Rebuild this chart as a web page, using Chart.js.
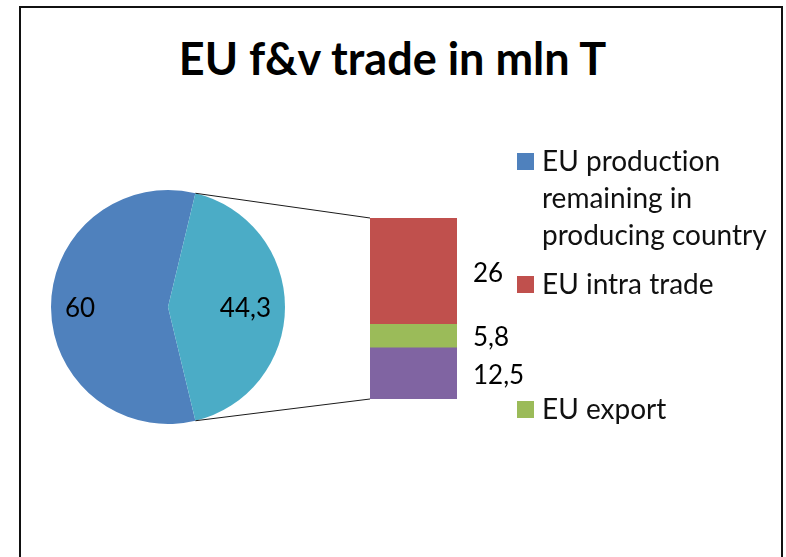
<!DOCTYPE html>
<html>
<head>
<meta charset="utf-8">
<script src="https://cdn.jsdelivr.net/npm/chart.js@4.4.1/dist/chart.umd.min.js"></script>
<style>
    html, body { margin: 0; padding: 0; background: #fff; }
    #wrap { position: relative; width: 786px; height: 557px; overflow: hidden; background: #fff; }
    #frame { position: absolute; left: 19px; top: 6px; width: 764px; height: 700px; border: 2px solid #111; box-sizing: border-box; }
    #title { position: absolute; left: 0; top: 36px; width: 785px; text-align: center;
             font: bold 45px/45px Lato, sans-serif; color: #000; white-space: nowrap; }
    canvas { position: absolute; left: 0; top: 0; }
    .legend-item { position: absolute; left: 542px; width: 236px; font: 28px/37px Lato, sans-serif; color: #111;
                   font-feature-settings: "liga" 0, "clig" 0, "dlig" 0, "calt" 0; }
    .legend-box { position: absolute; left: -25px; width: 17px; height: 17px; }
</style>
</head>
<body>
<div id="wrap">
    <div id="frame"></div>
    <div id="title">EU f&amp;v trade in mln T</div>
    <canvas id="pieChart" width="786" height="557"></canvas>
    <canvas id="barChart" width="786" height="557"></canvas>
    <div id="legend"></div>
</div>
<script>
// data
const pieCategories = ['EU production remaining in producing country', 'EU trade'];
const pieValues = [60, 44.3];
// bar segments, top to bottom
const barCategories = ['EU intra trade', 'EU export', ''];
const barValues = [26, 5.8, 12.5];
const legendLabels = ['EU production remaining in producing country', 'EU intra trade', 'EU export'];

// styles
const pieColors = ['#4F81BD', '#4BACC6'];
const barColors = ['#C0504D', '#9BBB59', '#8064A2'];
const legendColors = ['#4F81BD', '#C0504D', '#9BBB59'];
const legendBaselines = [171, 294, 419];
const labelFont = '26px Lato, sans-serif';

function fmt(v) {
    return String(v).replace('.', ',');
}

// pie: the aggregated slice is centred on the right side
const pieTotal = pieValues.reduce((a, b) => a + b, 0);
const pieRotation = 90 - 360 * (pieValues[0] + pieValues[1] / 2) / pieTotal;

const pieLabelPlugin = {
    id: 'pieLabels',
    afterDatasetsDraw(chart) {
        const ctx = chart.ctx;
        ctx.save();
        ctx.font = labelFont;
        ctx.fillStyle = '#000';
        ctx.textAlign = 'center';
        ctx.textBaseline = 'middle';
        chart.getDatasetMeta(0).data.forEach(function (arc, i) {
            const p = arc.getProps(['x', 'y', 'startAngle', 'endAngle', 'outerRadius']);
            const mid = (p.startAngle + p.endAngle) / 2;
            const text = fmt(pieValues[i]);
            const w = ctx.measureText(text).width;
            const h = 18;
            // inside end, like excel
            const d = p.outerRadius - 14 - (Math.abs(Math.cos(mid)) * w / 2 + Math.abs(Math.sin(mid)) * h / 2);
            ctx.fillText(text, p.x + d * Math.cos(mid), p.y + d * Math.sin(mid) + 2);
        });
        ctx.restore();
    }
};

const pieChart = new Chart(document.getElementById('pieChart').getContext('2d'), {
    type: 'pie',
    data: {
        labels: pieCategories,
        datasets: [{
            data: pieValues,
            backgroundColor: pieColors,
            borderWidth: 0
        }]
    },
    options: {
        responsive: false,
        animation: false,
        rotation: pieRotation,
        layout: { padding: { left: 51, top: 190, right: 501, bottom: 133 } },
        plugins: { legend: { display: false }, tooltip: { enabled: false } }
    },
    plugins: [pieLabelPlugin]
});

// bar: connector lines + labels
const barExtrasPlugin = {
    id: 'barExtras',
    afterDatasetsDraw(chart) {
        const ctx = chart.ctx;
        const n = chart.data.datasets.length;
        const bottomEl = chart.getDatasetMeta(0).data[0];
        const topEl = chart.getDatasetMeta(n - 1).data[0];
        const left = topEl.x - topEl.width / 2;
        const arc = pieChart.getDatasetMeta(0).data[1];
        const p = arc.getProps(['x', 'y', 'startAngle', 'endAngle', 'outerRadius']);

        ctx.save();
        ctx.strokeStyle = '#1a1a1a';
        ctx.lineWidth = 1;
        ctx.beginPath();
        ctx.moveTo(p.x + p.outerRadius * Math.cos(p.startAngle), p.y + p.outerRadius * Math.sin(p.startAngle));
        ctx.lineTo(left, topEl.y);
        ctx.moveTo(p.x + p.outerRadius * Math.cos(p.endAngle), p.y + p.outerRadius * Math.sin(p.endAngle));
        ctx.lineTo(left, bottomEl.base);
        ctx.stroke();

        ctx.font = labelFont;
        ctx.fillStyle = '#000';
        ctx.textAlign = 'left';
        ctx.textBaseline = 'middle';
        chart.data.datasets.forEach(function (ds, i) {
            const el = chart.getDatasetMeta(i).data[0];
            ctx.fillText(fmt(ds.data[0]), el.x + el.width / 2 + 16, (el.y + el.base) / 2 + 2);
        });
        ctx.restore();
    }
};

// stack from bottom up
const barDatasets = barCategories.map(function (name, i) {
    return {
        label: name,
        data: [barValues[i]],
        backgroundColor: barColors[i],
        borderWidth: 0
    };
}).reverse();

new Chart(document.getElementById('barChart').getContext('2d'), {
    type: 'bar',
    data: {
        labels: [''],
        datasets: barDatasets
    },
    options: {
        responsive: false,
        animation: false,
        barPercentage: 1,
        categoryPercentage: 1,
        layout: { padding: { left: 370, top: 218, right: 329, bottom: 158 } },
        scales: {
            x: { stacked: true, display: false },
            y: { stacked: true, display: false, min: 0, max: barValues.reduce((a, b) => a + b, 0) }
        },
        plugins: { legend: { display: false }, tooltip: { enabled: false } }
    },
    plugins: [barExtrasPlugin]
});

// legend
const legendEl = document.getElementById('legend');
legendLabels.forEach(function (label, i) {
    const item = document.createElement('div');
    item.className = 'legend-item';
    item.style.top = (legendBaselines[i] - 29.3) + 'px';
    const box = document.createElement('span');
    box.className = 'legend-box';
    box.style.background = legendColors[i];
    box.style.top = '11.8px';
    item.appendChild(box);
    item.appendChild(document.createTextNode(label));
    legendEl.appendChild(item);
});
</script>
</body>
</html>
